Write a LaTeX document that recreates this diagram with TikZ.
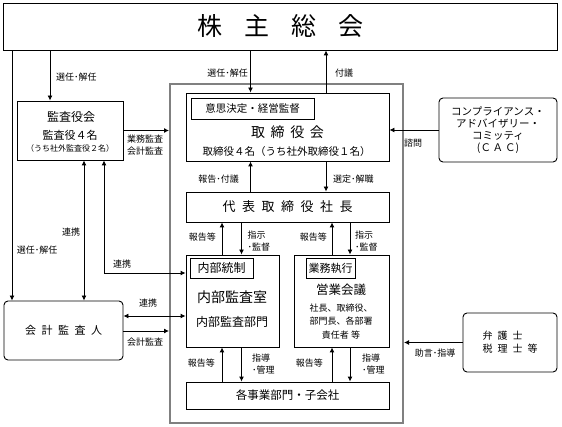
\documentclass[tikz,border=0pt]{standalone}
\usepackage{fontspec}
\setmainfont{Noto Sans CJK JP}
\usetikzlibrary{arrows.meta}
\tikzset{
  box/.style={draw,line width=0.9pt,inner sep=0pt,align=center},
  rbox/.style={box,rounded corners=4pt},
  tag/.style={box,font=\fontsize{11}{13}\selectfont},
  lbl/.style={inner sep=0pt,align=left,font=\fontsize{9}{12}\selectfont},
  arr/.style={-{Latex[length=5pt,width=5pt]},line width=0.9pt},
  both/.style={{Latex[length=5pt,width=5pt]}-{Latex[length=5pt,width=5pt]},line width=0.9pt}
}
\def\wsp{\hspace{0.5em}}

\begin{document}
\begin{tikzpicture}[x=1pt,y=-1pt]
  \useasboundingbox (0,0) rectangle (562,427);

  % Shareholders and frame
  \node[box,minimum width=554pt,minimum height=47pt,font=\fontsize{25}{25}\selectfont] (gm) at (280,26.5) {株\hspace{0.88em}主\hspace{0.88em}総\hspace{0.88em}会};
  \node[draw=gray,line width=2pt,minimum width=233pt,minimum height=339pt,inner sep=0pt] (frame) at (286.5,253.5) {};

  % Board and president
  \node[box,minimum width=203pt,minimum height=68pt] (bod) at (287.5,127) {};
  \node[tag,minimum width=123pt,minimum height=21pt,font=\fontsize{10.5}{12}\selectfont] (bodtag) at (252.5,108.5) {意思決定・経営監督};
  \node[font=\fontsize{14}{14}\selectfont] (bodname) at (287.5,132) {取\hspace{.4em}締\hspace{.4em}役\hspace{.4em}会};
  \node[font=\fontsize{10.5}{12}\selectfont] (bodnum) at (286.5,152) {取締役４名（うち社外取締役１名）};
  \node[box,minimum width=203pt,minimum height=30pt,font=\fontsize{13}{13}\selectfont] (ceo) at (287.5,207) {代\wsp 表\wsp 取\wsp 締\wsp 役\wsp 社\wsp 長};

  % Internal audit and operations
  \node[box,minimum width=93pt,minimum height=92pt] (ia) at (232.5,301) {};
  \node[tag,minimum width=63pt,minimum height=20pt,font=\fontsize{12}{12}\selectfont] (iatag) at (221.5,268) {内部統制};
  \node[font=\fontsize{14}{14}\selectfont] (ianame) at (232,297) {内部監査室};
  \node[font=\fontsize{12}{12}\selectfont] (iadept) at (232,322) {内部監査部門};
  \node[box,minimum width=95pt,minimum height=92pt] (ops) at (341.5,301) {};
  \node[tag,minimum width=49pt,minimum height=20pt] (opstag) at (330.5,268) {業務執行};
  \node[font=\fontsize{12.5}{13}\selectfont] (opsname) at (341,290) {営業会議};
  \node[align=center,font=\fontsize{9}{13.5}\selectfont] (opsmem) at (341,321.5) {社長、取締役、\\部門長、各部署\\責任者\ 等};
  \node[box,minimum width=203pt,minimum height=27pt,font=\fontsize{11.5}{12}\selectfont] (subs) at (287.5,395.5) {各事業部門・子会社};

  % Outside boxes
  \node[box,minimum width=106pt,minimum height=59pt] (aud) at (70,130.5) {};
  \node[font=\fontsize{12}{12}\selectfont] (audname) at (71,117) {監査役会};
  \node[font=\fontsize{11}{11}\selectfont] (audnum) at (70,135) {監査役４名};
  \node[font=\fontsize{8}{8}\selectfont] (audout) at (70,148) {（うち社外監査役２名）};
  \node[rbox,minimum width=119pt,minimum height=59pt,font=\fontsize{11}{11}\selectfont] (acct) at (63.5,330.5) {会\wsp 計\wsp 監\wsp 査\wsp 人};
  \node[rbox,minimum width=118pt,minimum height=64pt,font=\fontsize{10.5}{12}\selectfont] (cac) at (498,130) {コンプライアンス・\\アドバイザリー・\\コミッティ\\(Ｃ\,Ａ\,Ｃ)};
  \node[rbox,minimum width=94pt,minimum height=59pt,align=left,font=\fontsize{10}{13}\selectfont] (law) at (510,342.5) {弁\wsp 護\wsp 士\\税\wsp 理\wsp 士\wsp 等};

  % Line positions
  \coordinate (xa) at (12,0);
  \coordinate (xb) at (50,0);
  \coordinate (xc) at (84,0);
  \coordinate (xd) at (104,0);
  \coordinate (xe) at (250.5,0);
  \coordinate (xf) at (326,0);
  \coordinate (xg) at (222,0);
  \coordinate (xh) at (241.5,0);
  \coordinate (xi) at (332,0);
  \coordinate (xj) at (350,0);
  \coordinate (ya) at (0,273);
  \coordinate (yb) at (0,316);
  \coordinate (yc) at (0,331);

  % Connectors
  \draw[arr] (gm.south -| xa) -- (acct.north -| xa);
  \draw[arr] (gm.south -| xb) -- (aud.north -| xb);
  \draw[arr] (gm.south -| xe) -- (bod.north -| xe);
  \draw[arr] (bod.north -| xf) -- (gm.south -| xf);
  \draw[arr] (ceo.north -| xe) -- (bod.south -| xe);
  \draw[arr] (bod.south -| xf) -- (ceo.north -| xf);
  \draw[arr] (ia.north -| xg) -- (ceo.south -| xg);
  \draw[arr] (ceo.south -| xh) -- (ia.north -| xh);
  \draw[arr] (ops.north -| xi) -- (ceo.south -| xi);
  \draw[arr] (ceo.south -| xj) -- (ops.north -| xj);
  \draw[arr] (subs.north -| xg) -- (ia.south -| xg);
  \draw[arr] (ia.south -| xh) -- (subs.north -| xh);
  \draw[arr] (subs.north -| xi) -- (ops.south -| xi);
  \draw[arr] (ops.south -| xj) -- (subs.north -| xj);
  \draw[arr] (aud.east) -- (frame.west |- aud.east);
  \draw[both] (aud.south -| xc) -- (acct.north -| xc);
  \draw[both] (aud.south -| xd) |- (ia.west |- ya);
  \draw[both] (acct.east |- yb) -- (ia.west |- yb);
  \draw[arr] (acct.east |- yc) -- (frame.west |- yc);
  \draw[arr] (cac.west) -- (bod.east |- cac.west);
  \draw[arr] (law.west) -- (frame.east |- law.west);

  % Labels
  \node[lbl,anchor=west] (l1) at (56,77) {選任･解任};
  \node[lbl] (l2) at (37,250) {選任･解任};
  \node[lbl,anchor=east] (l3) at (248,73) {選任･解任};
  \node[lbl,anchor=west] (l4) at (335,73) {付議};
  \node[lbl,anchor=east] (l5) at (239,179) {報告･付議};
  \node[lbl,anchor=west] (l6) at (333,179) {選定･解職};
  \node[lbl,anchor=east] (l7) at (216,237) {報告等};
  \node[lbl,anchor=west] (l8) at (247.5,241) {指示\\･監督};
  \node[lbl,anchor=east] (l9) at (327,237) {報告等};
  \node[lbl,anchor=west] (l10) at (355,241) {指示\\･監督};
  \node[lbl,anchor=east] (l11) at (215,363) {報告等};
  \node[lbl,anchor=west] (l12) at (252,364.5) {指導\\･管理};
  \node[lbl,anchor=east] (l13) at (323,363) {報告等};
  \node[lbl,anchor=west] (l14) at (362,364.5) {指導\\･管理};
  \node[lbl,align=center] (l15) at (145,145.5) {業務監査\\会計監査};
  \node[lbl] (l16) at (71,232) {連携};
  \node[lbl] (l17) at (122,264) {連携};
  \node[lbl] (l18) at (148,303) {連携};
  \node[lbl] (l19) at (145,342) {会計監査};
  \node[lbl] (l20) at (413,143) {諮問};
  \node[lbl] (l21) at (435,353) {助言･指導};
\end{tikzpicture}
\end{document}
